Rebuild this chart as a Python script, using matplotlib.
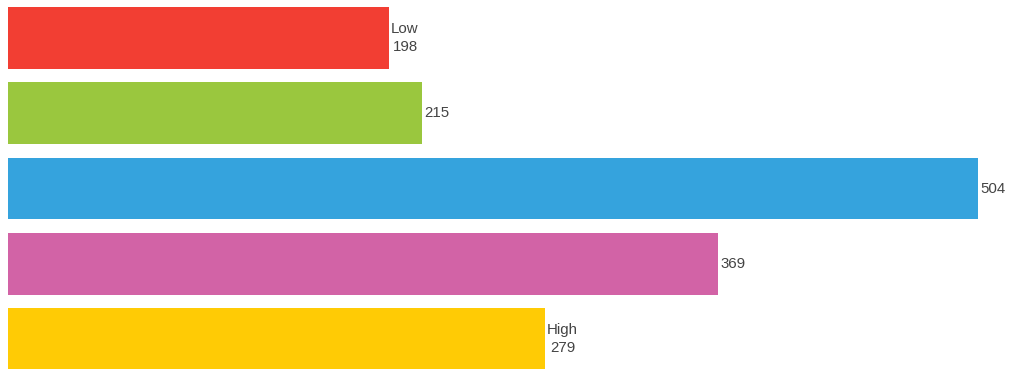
import matplotlib.pyplot as plt

values = [198, 215, 504, 369, 279]
labels = ['Low', '', '', '', 'High']
colors = ['#F23E33', '#9AC73E', '#35A3DD', '#D263A6', '#FFCB05']

fig = plt.figure(figsize=(10.13, 3.69), dpi=100)
ax = fig.add_axes([8 / 1013, -1 / 369, 970 / 1013, 363 / 369])

pos = list(range(len(values)))
ax.barh(pos, values, height=0.82, color=colors)
ax.set_xlim(0, 504)
ax.set_ylim(len(values) - 1 + 0.41, -0.41)
ax.axis('off')

for y, v, lab in zip(pos, values, labels):
    txt = f'{lab}\n{v}' if lab else str(v)
    ax.annotate(txt, (v, y), xytext=(1.5, 0), textcoords='offset points',
                ha='left', va='center', multialignment='center',
                fontsize=10.8, color='#444444', family='Liberation Sans',
                annotation_clip=False, linespacing=1.3)

fig.savefig('out.png', dpi=100)
